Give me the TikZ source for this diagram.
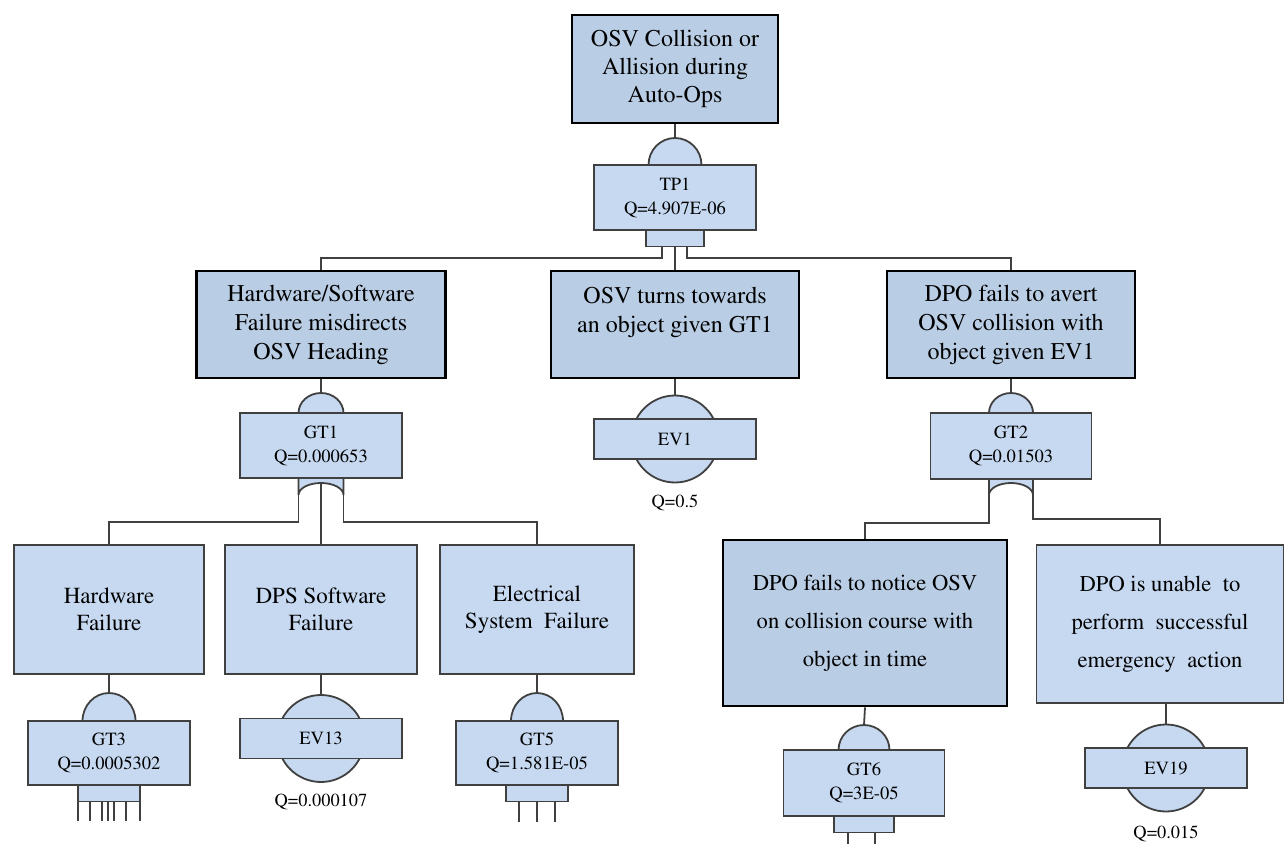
\documentclass[tikz,border=0pt]{standalone}
\usepackage[T1]{fontenc}
\usepackage{times}
\definecolor{boxdark}{HTML}{B9CDE4}
\definecolor{boxlight}{HTML}{C6D9F1}
\definecolor{linegray}{HTML}{404040}
\begin{document}
\begin{tikzpicture}
[x=0.5pt,y=-0.5pt,
  eventdecorate/.style={shape=rectangle,draw=black,line width=1.3pt,fill=boxdark,
    align=center,inner sep=2pt,font=\fontsize{12}{14.5}\selectfont},%
  basicdecorate/.style={shape=rectangle,draw=linegray,line width=0.9pt,fill=boxlight,
    align=center,inner sep=2pt,font=\fontsize{11.5}{13.5}\selectfont},%
  gatedecorate/.style={shape=rectangle,draw=linegray,line width=0.9pt,fill=boxlight,
    align=center,inner sep=1pt,font=\fontsize{9.3}{12}\selectfont},%
  circledecorate/.style={shape=circle,draw=linegray,line width=0.9pt,fill=boxlight,
    inner sep=0pt,minimum size=43.5pt},%
  gatefill/.style={draw=linegray,line width=0.9pt,fill=boxlight},%
  qdecorate/.style={inner sep=0pt,font=\fontsize{9.2}{11}\selectfont},%
  linedecorate/.style={-,draw=linegray,line width=0.9pt},%
  boxsize/.style 2 args={minimum width=#1*0.5pt,minimum height=#2*0.5pt}]
\useasboundingbox (0,0) rectangle (1284,844);
%% events
\node (top) at (675,69) [eventdecorate,boxsize={206}{108},font=\fontsize{12}{14}\selectfont]
  {OSV Collision or\\Allision during\\Auto-Ops};
\node (hws) at (321,324.5) [eventdecorate,boxsize={249}{107}]
  {Hardware/Software\\Failure misdirects\\OSV Heading};
\node (osv) at (675,324.5) [eventdecorate,boxsize={248}{107}]
  {OSV turns towards\\an object given GT1\\\mbox{}};
\node (dpo) at (1011,324.5) [eventdecorate,boxsize={248}{107}]
  {DPO fails to avert\\OSV collision with\\object given EV1};
\node (hwf) at (109,609.5) [basicdecorate,boxsize={190}{129}] {Hardware\\Failure};
\node (dps) at (321,609.5) [basicdecorate,boxsize={192}{129}] {DPS Software\\Failure};
\node (elec) at (537,609.5) [basicdecorate,boxsize={194}{129}] {Electrical\\System\ \ Failure};
\node (notice) at (865,623) [eventdecorate,boxsize={284}{166},font=\fontsize{11.3}{19}\selectfont]
  {DPO fails to notice OSV\\on collision course with\\object in time};
\node (unable) at (1160,624) [basicdecorate,boxsize={247}{158},font=\fontsize{11.3}{19}\selectfont]
  {DPO is unable\ \ to\\perform\ \ successful\\emergency\ \ action};
%% gate tops (and)
\foreach \cx/\by/\hw/\h in {675/165/26.5/27, 321/413/22.5/20, 1011/413/22/20,
  109/721/26.5/28, 537/721/26/28, 864/750/25.5/25} {
  \draw[gatefill] ({\cx-\hw},\by) arc[start angle=180,end angle=0,
    x radius=\hw*0.5pt,y radius=\h*0.5pt] -- cycle;
}
%% gate bottoms
\foreach \cx/\ty/\hw in {675/230/29, 109/785/31, 537/785/31, 864/816/30} {
  \draw[gatefill] ({\cx-\hw},\ty) rectangle ({\cx+\hw},{\ty+16.5});
}
\foreach \cx/\ty/\hw in {321/478/22.5, 1011/479/22} {
  \draw[gatefill] ({\cx-\hw},\ty) -- ({\cx-\hw},495) arc[start angle=180,end angle=0,
    x radius=\hw*0.5pt,y radius=6pt] -- ({\cx+\hw},\ty) -- cycle;
}
%% gates
\node (tp1) at (675,197.5) [gatedecorate,boxsize={162}{65}] {TP1\\Q=4.907E-06};
\node (gt1) at (321,445.5) [gatedecorate,boxsize={162}{65}] {GT1\\Q=0.000653};
\node (gt2) at (1011,446) [gatedecorate,boxsize={161}{66}] {GT2\\Q=0.01503};
\node (gt3) at (109,753) [gatedecorate,boxsize={162}{64}] {GT3\\Q=0.0005302};
\node (gt5) at (537,753) [gatedecorate,boxsize={162}{64}] {GT5\\Q=1.581E-05};
\node (gt6) at (864,783) [gatedecorate,boxsize={161}{66}] {GT6\\Q=3E-05};
%% basic events
\foreach \nodename/\x/\y/\q/\qy in {ev1/675/439/0.5/503, ev13/321/738.5/0.000107/802,
  ev19/1166/768/0.015/834} {
  \node (\nodename c) at (\x,\y) [circledecorate] {};
  \node (\nodename) at (\x,\y) [gatedecorate,boxsize={162}{40}] {\MakeUppercase{\nodename}};
  \node (\nodename q) at (\x,\qy) [qdecorate] {Q=\q};
}
%% gate inputs and outputs
\coordinate (tp1in) at (675,138);
\coordinate (gt1in) at (321,393);
\coordinate (gt2in) at (1011,393);
\coordinate (gt3in) at (109,693);
\coordinate (gt5in) at (537,693);
\coordinate (gt6in) at (864,725);
\coordinate (tp1l) at (662,246.5);
\coordinate (tp1m) at (675,246.5);
\coordinate (tp1r) at (687,246.5);
\coordinate (gt1l) at (298.5,495);
\coordinate (gt1m) at (321,483);
\coordinate (gt1r) at (343.5,495);
\coordinate (gt2l) at (989,495);
\coordinate (gt2r) at (1033,495);
%% edges or lines
\draw[linedecorate] (top.south) -- (tp1in);
\draw[linedecorate] (tp1l) -- ++(0,11.5) -| (hws.north);
\draw[linedecorate] (tp1m) -- (osv.north);
\draw[linedecorate] (tp1r) -- ++(0,11.5) -| (dpo.north);
\draw[linedecorate] (hws.south) -- (gt1in);
\draw[linedecorate] (osv.south) -- (ev1c.north);
\draw[linedecorate] (dpo.south) -- (gt2in);
\draw[linedecorate] (gt1l) -- ++(0,27) -| (hwf.north);
\draw[linedecorate] (gt1m) -- (dps.north);
\draw[linedecorate] (gt1r) -- ++(0,27) -| (elec.north);
\draw[linedecorate] (gt2l) -- ++(0,28) -| (notice.north);
\draw[linedecorate] (gt2r) -- ++(0,24) -| (unable.north);
\draw[linedecorate] (hwf.south) -- (gt3in);
\draw[linedecorate] (dps.south) -- (ev13c.north);
\draw[linedecorate] (elec.south) -- (gt5in);
\draw[linedecorate] (notice.south) -- (gt6in);
\draw[linedecorate] (ev19c.north |- unable.south) -- (ev19c.north);
%% open inputs
\foreach \dx in {-31,-19,-7,-1,5,17,31} {
  \draw[linedecorate] ({109+\dx},801.5) -- ++(0,19.5);
}
\foreach \dx in {-18,0,18} {
  \draw[linedecorate] ({537+\dx},801.5) -- ++(0,20.5);
}
\foreach \dx in {-16,11} {
  \draw[linedecorate] ({864+\dx},832.5) -- ++(0,12);
}
\end{tikzpicture}
\end{document}
